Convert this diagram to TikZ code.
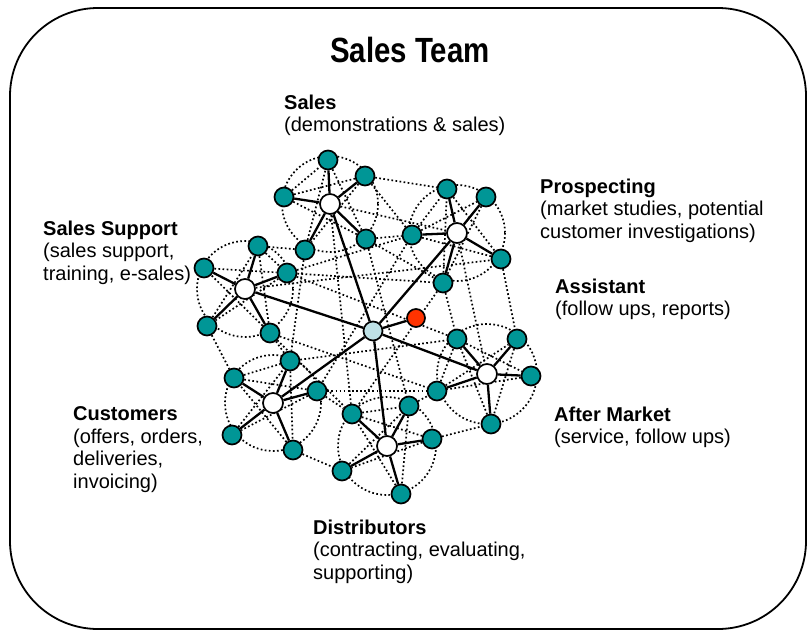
\documentclass[tikz,border=0pt]{standalone}
\usepackage{fontspec}
\setmainfont{Liberation Sans}
\newfontfamily\headfont[FakeStretch=0.84]{Liberation Sans}
\usetikzlibrary{backgrounds}

\definecolor{leafteal}{RGB}{0,150,150}
\definecolor{coreblue}{RGB}{190,225,230}
\definecolor{assistred}{RGB}{255,51,0}

\tikzset{
  member/.style={circle,draw,line width=1.7pt,fill=leafteal,minimum size=19pt,inner sep=0pt},
  hub/.style={circle,draw,line width=1.7pt,fill=white,minimum size=20pt,inner sep=0pt},
  tie/.style={line width=2.3pt},
  loose/.style={line width=1.7pt,dash pattern=on 1.7pt off 2.4pt},
  group/.style={anchor=north west,align=left,inner sep=0pt,font=\fontsize{20}{22.5}\selectfont}
}

\begin{document}
\begin{tikzpicture}[x=1pt,y=-1pt]
\useasboundingbox (0,0) rectangle (809,630);
\draw[line width=1.8pt,rounded corners=88pt] (10,8) rectangle (806,629);

\node (title) at (410,62) [anchor=base,font=\headfont\bfseries\fontsize{35}{40}\selectfont] {Sales Team};

%-------------------------------------
% team and assistant
\node[circle,draw,line width=1.7pt,fill=coreblue,minimum size=19pt,inner sep=0pt] (team) at (373,331) {};
\node[circle,draw,line width=1.7pt,fill=assistred,minimum size=18pt,inner sep=0pt] (assist) at (416,318) {};

% hubs
\node[hub] (sales) at (330,204) {};
\node[hub] (prosp) at (457,233) {};
\node[hub] (supp) at (245,289) {};
\node[hub] (after) at (487,374) {};
\node[hub] (cust) at (273,403) {};
\node[hub] (distr) at (387,446) {};

% sales
\node[member] (s1) at (328,160) {};
\node[member] (s2) at (365,176) {};
\node[member] (s3) at (366,239) {};
\node[member] (s4) at (305,250) {};
\node[member] (s5) at (284,197) {};
% prospecting
\node[member] (p1) at (447,189) {};
\node[member] (p2) at (486,197) {};
\node[member] (p3) at (501,259) {};
\node[member] (p4) at (443,283) {};
\node[member] (p5) at (412,235) {};
% sales support
\node[member] (u1) at (258,246) {};
\node[member] (u2) at (287,273) {};
\node[member] (u3) at (270,333) {};
\node[member] (u4) at (207,326) {};
\node[member] (u5) at (204,268) {};
% after market
\node[member] (a1) at (457,339) {};
\node[member] (a2) at (517,339) {};
\node[member] (a3) at (531,376) {};
\node[member] (a4) at (491,424) {};
\node[member] (a5) at (437,391) {};
% customers
\node[member] (c1) at (290,361) {};
\node[member] (c2) at (317,391) {};
\node[member] (c3) at (293,450) {};
\node[member] (c4) at (232,435) {};
\node[member] (c5) at (234,378) {};
% distributors
\node[member] (d1) at (409,406) {};
\node[member] (d2) at (432,439) {};
\node[member] (d3) at (401,494) {};
\node[member] (d4) at (342,471) {};
\node[member] (d5) at (352,414) {};

%-------------------------------------
\begin{pgfonlayer}{background}
% circles round the groups
\draw[loose] (sales) circle[radius=48];
\draw[loose] (prosp) circle[radius=48];
\draw[loose] (supp) circle[radius=48];
\draw[loose] (after) circle[radius=50];
\draw[loose] (cust) circle[radius=48];
\draw[loose] (distr) circle[radius=49];

% inside the groups
\draw[loose] (s1) -- (s3) -- (s5) -- (s2) -- (s4) -- (s1);
\draw[loose] (p1) -- (p3) -- (p5) -- (p2) -- (p4) -- (p1);
\draw[loose] (u1) -- (u3) -- (u5) -- (u2) -- (u4) -- (u1);
\draw[loose] (a1) -- (a3) -- (a5) -- (a2) -- (a4) -- (a1);
\draw[loose] (c1) -- (c3) -- (c5) -- (c2) -- (c4) -- (c1);
\draw[loose] (d1) -- (d3) -- (d5) -- (d2) -- (d4) -- (d1);
\draw[loose] (s5) -- (s1);
\draw[loose] (p5) -- (p1);
\draw[loose] (u1) -- (u2);
\draw[loose] (a5) -- (a1);
\draw[loose] (c5) -- (c1);
\draw[loose] (d5) -- (d1);

% between the groups
\draw[loose] (s2) -- (p1);
\draw[loose] (s2) -- (p5);
\draw[loose] (s3) -- (p5);
\draw[loose] (sales) -- (prosp);
\draw[loose] (s3) -- (p4);
\draw[loose] (s4) -- (u1);
\draw[loose] (u2) -- (p5);
\draw[loose] (u2) -- (p4);
\draw[loose] (supp) -- (p3);
\draw[loose] (u2) -- (a1);
\draw[loose] (u3) -- (a5);
\draw[loose] (u3) -- (c1);
\draw[loose] (u4) -- (c5);
\draw[loose] (s4) -- (c1);
\draw[loose] (sales) -- (d5);
\draw[loose] (s3) -- (d1);
\draw[loose] (p4) -- (a1);
\draw[loose] (p3) -- (a2);
\draw[loose] (prosp) -- (after);
\draw[loose] (p5) -- (c2);
\draw[loose] (p4) -- (d5);
\draw[loose] (c2) -- (a5);
\draw[loose] (c1) -- (a1);
\draw[loose] (c2) -- (d5);
\draw[loose] (c3) -- (d4);
\draw[loose] (d1) -- (a5);
\draw[loose] (d2) -- (a4);
\draw[loose] (u3) -- (d5);

% hub spokes
\draw[tie] (sales) -- (s1); \draw[tie] (sales) -- (s2); \draw[tie] (sales) -- (s3);
\draw[tie] (sales) -- (s4); \draw[tie] (sales) -- (s5);
\draw[tie] (prosp) -- (p1); \draw[tie] (prosp) -- (p2); \draw[tie] (prosp) -- (p3);
\draw[tie] (prosp) -- (p4); \draw[tie] (prosp) -- (p5);
\draw[tie] (supp) -- (u1); \draw[tie] (supp) -- (u2); \draw[tie] (supp) -- (u3);
\draw[tie] (supp) -- (u4); \draw[tie] (supp) -- (u5);
\draw[tie] (after) -- (a1); \draw[tie] (after) -- (a2); \draw[tie] (after) -- (a3);
\draw[tie] (after) -- (a4); \draw[tie] (after) -- (a5);
\draw[tie] (cust) -- (c1); \draw[tie] (cust) -- (c2); \draw[tie] (cust) -- (c3);
\draw[tie] (cust) -- (c4); \draw[tie] (cust) -- (c5);
\draw[tie] (distr) -- (d1); \draw[tie] (distr) -- (d2); \draw[tie] (distr) -- (d3);
\draw[tie] (distr) -- (d4); \draw[tie] (distr) -- (d5);

% team to hubs
\draw[tie] (team) -- (sales);
\draw[tie] (team) -- (prosp);
\draw[tie] (team) -- (supp);
\draw[tie] (team) -- (after);
\draw[tie] (team) -- (cust);
\draw[tie] (team) -- (distr);
\draw[tie] (team) -- (assist);
\end{pgfonlayer}

%-------------------------------------
\node[group] (salestxt) at (284,94.5) {\textbf{Sales}\\(demonstrations \& sales)};
\node[group] (prosptxt) at (540,178.5) {\textbf{Prospecting}\\(market studies, potential\\customer investigations)};
\node[group] (supptxt) at (43,220.5) {\textbf{Sales Support}\\(sales support,\\training, e-sales)};
\node[group] (assisttxt) at (555,278.5) {\textbf{Assistant}\\(follow ups, reports)};
\node[group] (custtxt) at (73,406.5) {\textbf{Customers}\\(offers, orders,\\deliveries,\\invoicing)};
\node[group] (aftertxt) at (554,406.5) {\textbf{After Market}\\(service, follow ups)};
\node[group] (distrtxt) at (313,519.5) {\textbf{Distributors}\\(contracting, evaluating,\\supporting)};
\end{tikzpicture}
\end{document}
